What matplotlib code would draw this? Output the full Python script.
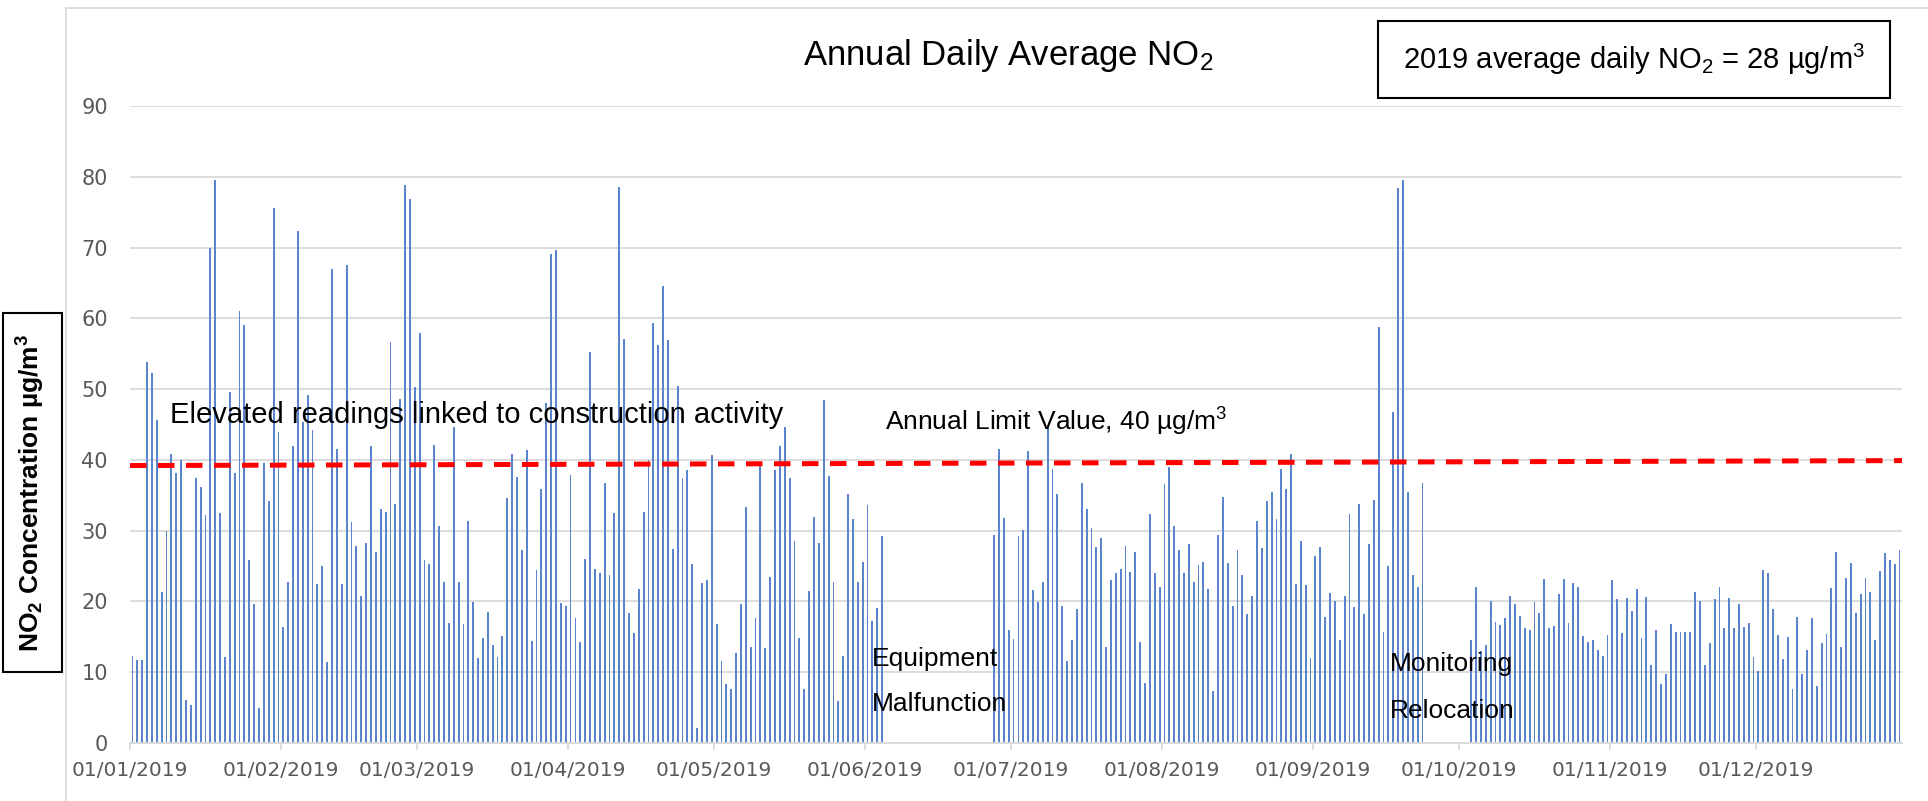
import matplotlib

matplotlib.use("Agg")
import matplotlib.pyplot as plt
import numpy as np
import pandas as pd
from matplotlib.patches import Rectangle
from matplotlib.lines import Line2D

# daily average NO2 (ug/m3); gaps = no data
jan = [12.3, 11.7, 11.7, 53.9, 52.3, 45.6, 21.3, 29.9, 40.8, 38.2, 40.0, 6.1, 5.4, 37.4, 36.2, 32.2,
       69.9, 79.5, 32.5, 12.2, 49.6, 38.2, 61.1, 59.1, 25.8, 19.6, 5.0, 39.6, 34.2, 75.6, 44.0]
feb = [16.4, 22.8, 41.9, 72.4, 45.3, 49.1, 44.2, 22.4, 25.0, 11.4, 67.0, 41.6, 22.4, 67.6, 31.2, 27.9,
       20.8, 28.2, 41.9, 27.0, 33.1, 32.6, 56.6, 33.8, 48.6, 78.8, 76.9, 50.3]
mar = [57.9, 25.8, 25.3, 42.1, 30.7, 22.8, 16.9, 44.7, 22.8, 16.8, 31.3, 19.9, 12.0, 14.9, 18.5, 13.8,
       12.2, 15.1, 34.6, 40.8, 37.6, 27.2, 41.4, 14.4, 24.5, 35.9, 48.1, 69.1, 69.6, 19.8, 19.4]
apr = [37.8, 17.7, 14.2, 26.0, 55.2, 24.6, 24.0, 36.8, 23.7, 32.5, 78.5, 57.1, 18.3, 15.6, 21.7, 32.6,
       40.0, 59.3, 56.3, 64.5, 57.0, 27.4, 50.4, 37.5, 38.6, 25.3, 2.1, 22.6, 23.0, 40.7]
may = [16.8, 11.6, 8.4, 7.7, 12.7, 19.7, 33.3, 13.5, 17.6, 39.6, 13.4, 23.4, 38.6, 41.9, 44.6, 37.4,
       28.5, 14.8, 7.7, 21.5, 32.0, 28.2, 48.5, 37.7, 22.7, 5.9, 12.3, 35.2, 31.6, 22.7, 25.6]
jun_a = [33.6, 17.2, 19.1, 29.2]
jun_b = [29.4, 41.6, 31.8, 15.9]
jul = [14.7, 29.2, 30.1, 41.2, 21.6, 19.9, 22.8, 44.8, 38.7, 35.2, 19.4, 11.6, 14.5, 18.9, 36.8, 33.1,
       30.4, 27.7, 29.0, 13.5, 23.0, 24.0, 24.6, 27.9, 24.2, 27.0, 14.3, 8.5, 32.3, 24.0, 22.1]
aug = [36.6, 39.0, 30.7, 27.2, 24.0, 28.1, 22.8, 25.1, 25.6, 21.7, 7.4, 29.4, 34.8, 25.4, 19.4, 27.2,
       23.7, 18.2, 20.8, 31.4, 27.6, 34.2, 35.5, 31.7, 38.7, 35.9, 40.9, 22.4, 28.6, 22.3, 12.0]
sep = [26.4, 27.7, 17.8, 21.2, 20.0, 14.5, 20.8, 32.3, 19.2, 33.7, 18.2, 28.1, 34.4, 58.8, 15.7, 25.0,
       46.7, 78.4, 79.5, 35.5, 23.7, 22.1, 36.8]
octo = [14.5, 22.1, 13.0, 13.9, 20.1, 17.1, 16.7, 17.6, 20.7, 19.6, 17.9, 16.3, 15.9, 19.9, 18.3,
        23.2, 16.2, 16.6, 21.0, 23.2, 16.9, 22.6, 22.1, 15.1, 14.3, 14.6, 13.2, 12.3, 15.2]
nov = [23.1, 20.3, 15.5, 20.5, 18.6, 21.8, 14.9, 20.6, 11.0, 15.9, 8.4, 9.8, 16.8, 15.7, 15.7, 15.7,
       15.7, 21.3, 20.0, 11.0, 14.1, 20.3, 22.1, 16.2, 20.5, 16.2, 19.6, 16.4, 16.9, 12.1]
dec = [10.2, 24.4, 24.0, 18.9, 15.2, 11.8, 15.0, 7.6, 17.8, 9.8, 13.2, 17.6, 8.1, 14.1, 15.4, 21.9,
       27.0, 13.6, 23.3, 25.4, 18.3, 21.0, 23.3, 21.3, 14.6, 24.3, 26.9, 25.8, 25.3, 27.2]

segments = [
    ("2019-01-01", jan), ("2019-02-01", feb), ("2019-03-01", mar), ("2019-04-01", apr),
    ("2019-05-01", may), ("2019-06-01", jun_a), ("2019-06-27", jun_b), ("2019-07-01", jul),
    ("2019-08-01", aug), ("2019-09-01", sep), ("2019-10-03", octo), ("2019-11-01", nov),
    ("2019-12-01", dec),
]
limit_line = [39.2, 39.9]  # drawn limit line, slightly sloped as in the source

W, H = 1928, 801
start = pd.Timestamp("2019-01-01")

plt.rcParams["mathtext.fontset"] = "custom"
plt.rcParams["mathtext.rm"] = "Liberation Sans"
plt.rcParams["mathtext.it"] = "Liberation Sans:italic"
plt.rcParams["mathtext.bf"] = "Liberation Sans:bold"


def fx(px):
    return px / W


def fy(py):
    return 1 - py / H


fig = plt.figure(figsize=(W / 100, H / 100), dpi=100)
ax = fig.add_axes([fx(130), fy(743), (1902 - 130) / W, (743 - 106) / H])

xs, ys = [], []
for d0, vals in segments:
    off = (pd.Timestamp(d0) - start).days
    xs.append(off + np.arange(len(vals)) + 0.5)
    ys.append(np.array(vals, dtype=float))
xs = np.concatenate(xs)
ys = np.concatenate(ys)
ax.bar(xs, ys, width=0.38, color="#5B84CE", zorder=2)

ax.plot([0, 364], limit_line, color="#FF0000", lw=3.6, dashes=(3.3, 2.3), zorder=3)

months = pd.date_range("2019-01-01", periods=12, freq="MS")
ax.set_xticks([(m - start).days for m in months])
ax.set_xticklabels([m.strftime("%d/%m/%Y") for m in months])
ax.set_xlim(0, 364)
ax.set_ylim(0, 90)
ax.set_yticks(range(0, 100, 10))

ax.yaxis.grid(True, color="#D9D9D9", lw=1.3, zorder=0)
ax.set_axisbelow(True)
for s in ("top", "right", "left"):
    ax.spines[s].set_visible(False)
ax.spines["bottom"].set_color("#D9D9D9")
ax.spines["bottom"].set_linewidth(1.3)
ax.tick_params(axis="y", length=0, pad=16, labelsize=15, labelcolor="#595959")
ax.tick_params(axis="x", length=5, width=1.2, color="#D9D9D9", pad=8, labelsize=14.5,
               labelcolor="#595959")

txt = dict(family="Liberation Sans", color="black", va="center", ha="left")
ax.text(8.2, 46.4, "Elevated readings linked to construction activity", fontsize=21, **txt)
ax.text(155.1, 45.3, "Annual Limit Value, 40 µg/m$^{3}$", fontsize=19, **txt)
ax.text(152.4, 11.8, "Equipment", fontsize=19, **txt)
ax.text(152.4, 5.5, "Malfunction", fontsize=19, **txt)
ax.text(258.8, 11.1, "Monitoring", fontsize=19, **txt)
ax.text(258.8, 4.5, "Relocation", fontsize=19, **txt)

# chart-area border (only left and top visible in the source)
fig.add_artist(Line2D([fx(66), fx(66)], [fy(8), 0], transform=fig.transFigure,
                      color="#D9D9D9", lw=1.3))
fig.add_artist(Line2D([fx(66), 1], [fy(8), fy(8)], transform=fig.transFigure,
                      color="#D9D9D9", lw=1.3))

fig.text(fx(1008), fy(55), "Annual Daily Average NO$_{2}$", fontsize=25,
         family="Liberation Sans", ha="center", va="center")

fig.add_artist(Rectangle((fx(1378), fy(98)), (1890 - 1378) / W, (98 - 21) / H,
                         transform=fig.transFigure, facecolor="white", edgecolor="black",
                         lw=1.5, zorder=5))
fig.text(fx(1634), fy(59), "2019 average daily NO$_{2}$ = 28 µg/m$^{3}$", fontsize=21,
         family="Liberation Sans", ha="center", va="center", zorder=6)

fig.add_artist(Rectangle((fx(3), fy(672)), 59 / W, (672 - 313) / H,
                         transform=fig.transFigure, facecolor="white", edgecolor="black",
                         lw=1.5, zorder=5))
fig.text(fx(31), fy(493), r"NO$_\mathbf{2}$ Concentration µg/m$^\mathbf{3}$",
         fontsize=19, family="Liberation Sans", fontweight="bold", rotation=90,
         ha="center", va="center", zorder=6)

fig.savefig("out.png", dpi=100)
